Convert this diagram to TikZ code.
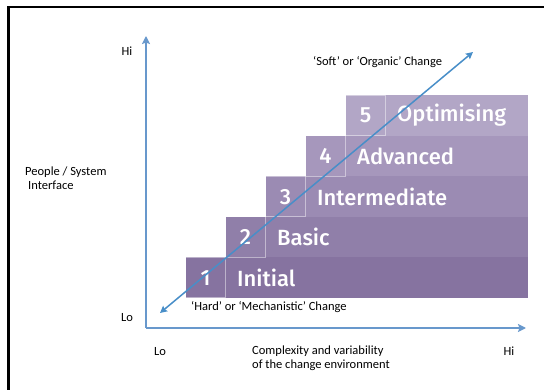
\documentclass[tikz,border=0pt]{standalone}
\usepackage{fontspec}
\setmainfont{Carlito}
\newfontfamily\stepfont{Fira Sans}[UprightFont=* Medium]
\usetikzlibrary{arrows.meta}
\definecolor{axisblue}{RGB}{104,152,204}
\definecolor{diagblue}{RGB}{72,142,200}
\definecolor{stepone}{RGB}{134,115,160}
\definecolor{steptwo}{RGB}{144,127,169}
\definecolor{stepthree}{RGB}{155,139,179}
\definecolor{stepfour}{RGB}{166,151,188}
\definecolor{stepfive}{RGB}{178,166,198}
\tikzset{
  numcell/.style={draw=white, draw opacity=0.45, line width=1pt, minimum width=40pt, minimum height=40.5pt, anchor=north west, inner sep=0pt, text=white, font=\stepfont\fontsize{22}{24}\selectfont},
  namecell/.style={minimum height=40.5pt, anchor=north west, inner xsep=12pt, inner ysep=0pt, align=left, text=white, font=\stepfont\fontsize{22}{24}\selectfont},
  lbl/.style={inner sep=0pt, font=\fontsize{12.5}{14}\selectfont},
}
\begin{document}
\begin{tikzpicture}[x=1pt, y=-1pt]
    \useasboundingbox (0,0) rectangle (544,390);
    % frame
    \draw[line width=2.5pt] (8.5,390) -- (8.5,7) -- (544,7);
    % steps
    \node[namecell, fill=stepone, text width=279pt] (initial) at (225,257) {Initial};
    \node[numcell, fill=stepone] (one) at (185,257) {1};
    \node[namecell, fill=steptwo, text width=239pt] (basic) at (265,216.5) {Basic};
    \node[numcell, fill=steptwo] (two) at (225,216.5) {2};
    \node[namecell, fill=stepthree, text width=199pt] (intermediate) at (305,176) {Intermediate};
    \node[numcell, fill=stepthree] (three) at (265,176) {3};
    \node[namecell, fill=stepfour, text width=159pt] (advanced) at (345,135.5) {Advanced};
    \node[numcell, fill=stepfour] (four) at (305,135.5) {4};
    \node[namecell, fill=stepfive, text width=119pt] (optimising) at (385,95) {Optimising};
    \node[numcell, fill=stepfive] (five) at (345,95) {5};
    % axes
    \coordinate (origin) at (146,328);
    \coordinate (ytop) at (146,36);
    \coordinate (xend) at (526,328);
    \draw[axisblue, line width=2pt, -{Stealth[length=8pt, width=8pt, inset=1.5pt]}] (origin) -- (ytop);
    \draw[axisblue, line width=2pt, -{Stealth[length=8pt, width=8pt, inset=1.5pt]}] (origin) -- (xend);
    % diagonal
    \coordinate (hard) at (160,313);
    \coordinate (soft) at (473,52);
    \draw[diagblue, line width=1.5pt, {Stealth[length=7pt, width=7pt, inset=1pt]}-{Stealth[length=7pt, width=7pt, inset=1pt]}] (hard) -- (soft);
    % labels
    \node[lbl] (yhi) at (127,51) {Hi};
    \node[lbl] (ylo) at (127,318) {Lo};
    \node[lbl, align=left, anchor=west] (ylabel) at (25,178.5) {People / System\\\hspace{3pt}Interface};
    \node[lbl] (xlo) at (160,352) {Lo};
    \node[lbl] (xhi) at (509,351) {Hi};
    \node[lbl, align=left, anchor=west] (xlabel) at (252,358) {Complexity and variability\\of the change environment};
    \node[lbl, anchor=west] (hardlabel) at (191,307) {`Hard' or `Mechanistic' Change};
    \node[lbl, anchor=west] (softlabel) at (313,62) {`Soft' or `Organic' Change};
\end{tikzpicture}
\end{document}
